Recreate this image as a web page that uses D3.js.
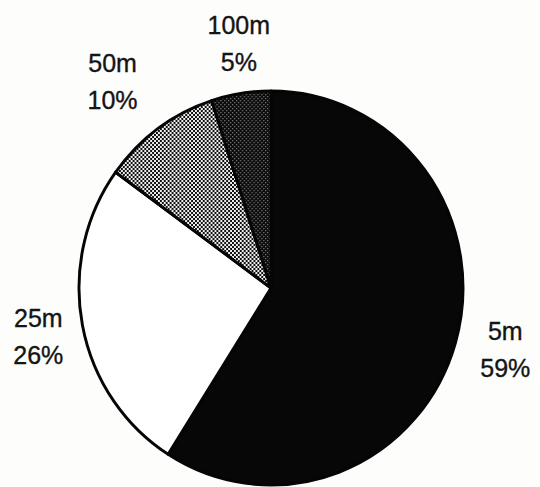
<!DOCTYPE html>
<html>
<head>
<meta charset="utf-8">
<script src="https://cdn.jsdelivr.net/npm/d3@7/dist/d3.min.js"></script>
<style>
  html, body { margin: 0; padding: 0; background: #fdfdfc; }
  svg { display: block; }
  text { font-family: "Liberation Sans", Arial, Helvetica, sans-serif; font-size: 25px; fill: #141414; stroke: #141414; stroke-width: 0.35px; }
</style>
</head>
<body>
<svg id="chart" width="540" height="487"></svg>
<script>
// Share of samples by distance class
const categories = ["5m", "25m", "50m", "100m"];
const shares = [59, 26, 10, 5];
const labelsPct = ["59%", "26%", "10%", "5%"];

const width = 540, height = 487;
const cx = 271, cy = 288, rx = 192, ry = 197;

const svg = d3.select("#chart");
const defs = svg.append("defs");

// medium screen: fine checkerboard
const pMed = defs.append("pattern")
  .attr("id", "screen-med").attr("patternUnits", "userSpaceOnUse")
  .attr("width", 4).attr("height", 4);
pMed.append("rect").attr("width", 4).attr("height", 4).attr("fill", "#111");
pMed.append("rect").attr("x", 0).attr("y", 0).attr("width", 2).attr("height", 2).attr("fill", "#eee");
pMed.append("rect").attr("x", 2).attr("y", 2).attr("width", 2).attr("height", 2).attr("fill", "#eee");

// dark screen: sparse light dots on black
const pDark = defs.append("pattern")
  .attr("id", "screen-dark").attr("patternUnits", "userSpaceOnUse")
  .attr("width", 4).attr("height", 4);
pDark.append("rect").attr("width", 4).attr("height", 4).attr("fill", "#0a0a0a");
pDark.append("rect").attr("x", 0).attr("y", 0).attr("width", 1.3).attr("height", 1.3).attr("fill", "#777");
pDark.append("rect").attr("x", 2).attr("y", 2).attr("width", 1.3).attr("height", 1.3).attr("fill", "#777");

const fills = d3.scaleOrdinal()
  .domain(categories)
  .range(["#070707", "#ffffff", "url(#screen-med)", "url(#screen-dark)"]);

const pie = d3.pie().sort(null).value(d => d.value).startAngle(0).endAngle(2 * Math.PI);
const data = categories.map((c, i) => ({ cat: c, value: shares[i], pct: labelsPct[i] }));
const arcs = pie(data);

// pie is drawn on a unit-ish radius and stretched slightly to an ellipse
const arc = d3.arc().innerRadius(0).outerRadius(ry);
const g = svg.append("g").attr("transform", `translate(${cx},${cy})`);

g.append("g")
  .attr("transform", `scale(${rx / ry},1)`)
  .selectAll("path.slice")
  .data(arcs)
  .join("path")
  .attr("class", "slice")
  .attr("d", arc)
  .attr("fill", d => fills(d.data.cat))
  .attr("stroke", "#050505")
  .attr("stroke-width", 3)
  .attr("stroke-linejoin", "round");

// labels sit outside the rim along each slice's mid-angle
const labelArc = d3.arc().innerRadius(244).outerRadius(244);
const nudge = { "5m": [0, -7], "25m": [7, 3], "50m": [-15, -9], "100m": [6, -4] };
const lineGap = 37;

const labels = g.selectAll("g.label")
  .data(arcs)
  .join("g")
  .attr("class", "label")
  .attr("transform", d => {
    const [x, y] = labelArc.centroid(d);
    const [dx, dy] = nudge[d.data.cat];
    return `translate(${x + dx},${y + dy})`;
  });

labels.append("text")
  .attr("text-anchor", "middle")
  .attr("y", -lineGap / 2 + 9)
  .text(d => d.data.cat);
labels.append("text")
  .attr("text-anchor", "middle")
  .attr("y", lineGap / 2 + 9)
  .text(d => d.data.pct);
</script>
</body>
</html>
